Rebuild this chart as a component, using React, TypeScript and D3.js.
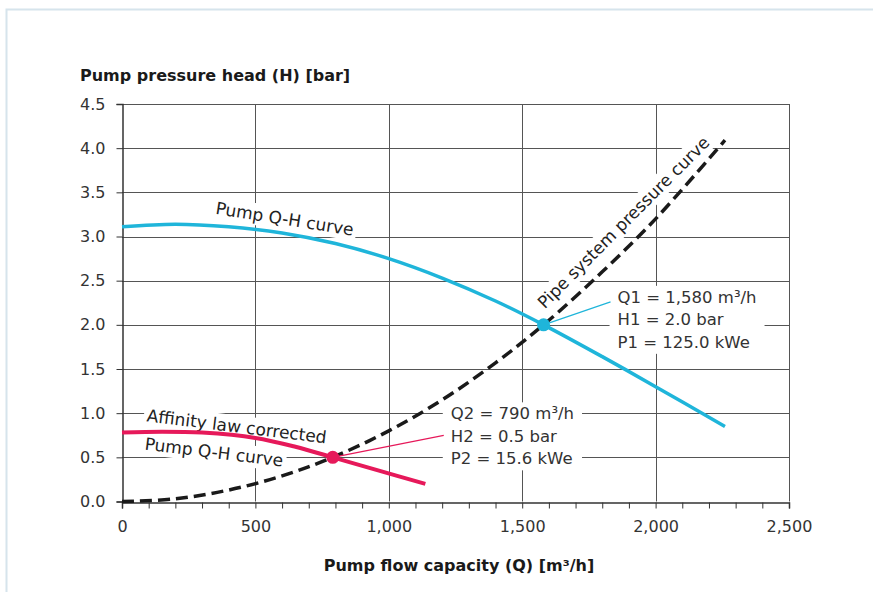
import React, { useEffect, useRef } from "react";
import * as d3 from "d3";

// Pump Q-H curve (full speed)
const pumpQ = [0, 200, 400, 600, 800, 1000, 1200, 1400, 1580, 1800, 2000, 2260];
const pumpH = [3.11, 3.14, 3.11, 3.04, 2.92, 2.75, 2.53, 2.27, 2.0, 1.64, 1.3, 0.85];

// Affinity law corrected pump curve
const affQ = [0, 150, 300, 500, 650, 790, 950, 1137];
const affH = [0.78, 0.79, 0.78, 0.72, 0.62, 0.5, 0.36, 0.2];

// Pipe system pressure curve
const pipeQ = [0, 200, 400, 600, 790, 1000, 1200, 1400, 1580, 1800, 2000, 2260];
const pipeH = [0, 0.03, 0.13, 0.29, 0.5, 0.8, 1.15, 1.57, 2.0, 2.6, 3.2, 4.09];

const xTicks = [0, 500, 1000, 1500, 2000, 2500];
const yTicks = [0, 0.5, 1, 1.5, 2, 2.5, 3, 3.5, 4, 4.5];

const op1 = { q: 1580, h: 2.0, lines: ["Q1 = 1,580 m³/h", "H1 = 2.0 bar", "P1 = 125.0 kWe"] };
const op2 = { q: 790, h: 0.5, lines: ["Q2 = 790 m³/h", "H2 = 0.5 bar", "P2 = 15.6 kWe"] };

const BLUE = "#1fb5da";
const PINK = "#e6195a";
const FONT = "'DejaVu Sans', sans-serif";

const App = () => {
  const svgRef = useRef(null);

  useEffect(() => {
    const width = 873;
    const height = 592;
    const svg = d3.select(svgRef.current);
    svg.selectAll("*").remove();
    svg.attr("width", width).attr("height", height).style("font-family", FONT);

    // card border
    svg.append("path").attr("d", "M6.5,600 V9.5 H880").attr("fill", "none").attr("stroke", "#d6e4ec").attr("stroke-width", 2);

    const x = d3.scaleLinear().domain([0, 2500]).range([122, 789]);
    const y = d3.scaleLinear().domain([0, 4.5]).range([501.5, 104]);

    // gridlines
    const grid = svg.append("g").attr("stroke", "#555").attr("stroke-width", 1);
    grid
      .selectAll("line.h")
      .data(yTicks.filter((d) => d > 0))
      .join("line")
      .attr("x1", x(0))
      .attr("x2", x(2500))
      .attr("y1", (d) => Math.round(y(d)) + 0.5)
      .attr("y2", (d) => Math.round(y(d)) + 0.5);
    grid
      .selectAll("line.v")
      .data(xTicks.filter((d) => d > 0))
      .join("line")
      .attr("x1", (d) => Math.round(x(d)) + 0.5)
      .attr("x2", (d) => Math.round(x(d)) + 0.5)
      .attr("y1", y(4.5))
      .attr("y2", y(0));

    // axes
    svg
      .append("g")
      .attr("transform", `translate(${Math.round(x(0)) + 0.5},0)`)
      .call(d3.axisLeft(y).tickValues(yTicks).tickSize(6).tickPadding(11).tickFormat(d3.format(".1f")));
    svg
      .append("g")
      .attr("transform", `translate(0,${Math.round(y(0)) + 0.5})`)
      .call(d3.axisBottom(x).tickValues(d3.range(0, 2501, 100)).tickSize(6).tickFormat(() => ""));
    svg
      .append("g")
      .attr("transform", `translate(0,${Math.round(y(0)) + 0.5})`)
      .call(d3.axisBottom(x).tickValues(xTicks).tickSize(0).tickPadding(18).tickFormat(d3.format(",")))
      .call((g) => g.select(".domain").remove());
    svg.selectAll(".domain").attr("stroke", "#333").attr("stroke-width", 1.5);
    svg.selectAll(".tick line").attr("stroke", "#333");
    svg.selectAll("g[font-size]").attr("font-size", 16).attr("font-family", FONT);
    svg.selectAll(".tick text").attr("fill", "#333");

    // axis titles
    svg
      .append("text")
      .attr("x", 80)
      .attr("y", 81)
      .attr("font-size", 16)
      .attr("font-weight", 700)
      .attr("fill", "#1a1a1a")
      .text("Pump pressure head (H) [bar]");
    svg
      .append("text")
      .attr("x", 459)
      .attr("y", 571)
      .attr("text-anchor", "middle")
      .attr("font-size", 16)
      .attr("font-weight", 700)
      .attr("fill", "#1a1a1a")
      .text("Pump flow capacity (Q) [m³/h]");

    // rotated curve labels with white boxes
    const rotLabel = (text, cx, cy, angle) => {
      const g = svg.append("g").attr("transform", `translate(${cx},${cy}) rotate(${angle})`);
      const t = g
        .append("text")
        .attr("text-anchor", "middle")
        .attr("dy", "0.35em")
        .attr("font-size", 17)
        .attr("fill", "#222")
        .text(text);
      const b = t.node().getBBox();
      g.insert("rect", "text")
        .attr("x", b.x - 3)
        .attr("y", b.y - 1)
        .attr("width", b.width + 6)
        .attr("height", b.height + 2)
        .attr("fill", "#fff");
    };
    rotLabel("Pump Q-H curve", x(610), y(3.2), 9);
    rotLabel("Pipe system pressure curve", x(1880), y(3.16), -45);
    rotLabel("Affinity law corrected", x(430), y(0.85), 7);
    rotLabel("Pump Q-H curve", x(345), y(0.56), 7);

    // operating point annotation boxes
    const annot = (op, dx, dy) => {
      const px = x(op.q);
      const py = y(op.h);
      const g = svg.append("g").attr("transform", `translate(${px + dx},${py + dy})`);
      const t = g.append("text").attr("font-size", 16.5).attr("fill", "#333");
      op.lines.forEach((l, i) => {
        t.append("tspan").attr("x", 0).attr("y", i * 22.5).text(l);
      });
      const b = t.node().getBBox();
      g.insert("rect", "text")
        .attr("x", b.x - 8)
        .attr("y", b.y - 2)
        .attr("width", b.width + 16)
        .attr("height", b.height + 4)
        .attr("fill", "#fff");
      return { px, py, bx: px + dx + b.x - 8 };
    };
    const a1 = annot(op1, 74, -22);
    const a2 = annot(op2, 118, -38);

    const line = d3
      .line()
      .x((d) => x(d[0]))
      .y((d) => y(d[1]))
      .curve(d3.curveCatmullRom.alpha(0.5));

    svg
      .append("path")
      .datum(pipeQ.map((q, i) => [q, pipeH[i]]))
      .attr("fill", "none")
      .attr("stroke", "#1a1a1a")
      .attr("stroke-width", 3.5)
      .attr("stroke-dasharray", "12,6")
      .attr("d", line);

    svg
      .append("path")
      .datum(pumpQ.map((q, i) => [q, pumpH[i]]))
      .attr("fill", "none")
      .attr("stroke", BLUE)
      .attr("stroke-width", 3.5)
      .attr("d", line);

    svg
      .append("path")
      .datum(affQ.map((q, i) => [q, affH[i]]))
      .attr("fill", "none")
      .attr("stroke", PINK)
      .attr("stroke-width", 4)
      .attr("d", line);

    // leader lines and points
    svg
      .append("line")
      .attr("x1", a1.px)
      .attr("y1", a1.py)
      .attr("x2", a1.bx + 1)
      .attr("y2", a1.py - 23)
      .attr("stroke", BLUE)
      .attr("stroke-width", 1.2);
    svg
      .append("line")
      .attr("x1", a2.px)
      .attr("y1", a2.py)
      .attr("x2", a2.bx + 1)
      .attr("y2", a2.py - 22)
      .attr("stroke", PINK)
      .attr("stroke-width", 1.2);

    svg.append("circle").attr("cx", a1.px).attr("cy", a1.py).attr("r", 6.5).attr("fill", BLUE);
    svg.append("circle").attr("cx", a2.px).attr("cy", a2.py).attr("r", 6.5).attr("fill", PINK);
  }, []);

  return <svg ref={svgRef} style={{ position: "absolute", left: 0, top: 0 }}></svg>;
};

export default App;
